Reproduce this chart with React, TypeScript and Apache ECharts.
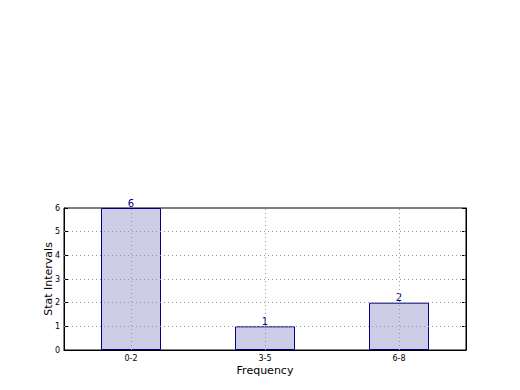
import React, { useEffect, useRef } from "react";
import * as echarts from "echarts";

const categories = ["0-2", "3-5", "6-8"];
const values = [6, 1, 2];
const yTicks = [0, 1, 2, 3, 4, 5, 6];
const innerGridY = [1, 2, 3, 4, 5];

export default function App() {
  const ref = useRef<HTMLDivElement>(null);
  useEffect(() => {
    if (!ref.current) return;
    const chart = echarts.init(ref.current, undefined, { renderer: "svg" });
    const font = "DejaVu Sans";
    const gridStyle = { color: "#999", type: [1, 3], width: 1 };
    chart.setOption({
      animation: false,
      textStyle: { fontFamily: font },
      grid: {
        left: 64,
        top: 208,
        width: 402,
        height: 142,
        show: true,
        borderColor: "#000",
        borderWidth: 1,
        backgroundColor: "transparent",
        containLabel: false,
      },
      xAxis: {
        type: "category",
        data: categories,
        boundaryGap: true,
        name: "Frequency",
        nameLocation: "middle",
        nameGap: 15,
        nameMoveOverlap: false,
        nameTextStyle: { fontSize: 11, color: "#000", fontFamily: font },
        axisLine: { lineStyle: { color: "#000", width: 1 } },
        axisTick: { inside: true, alignWithLabel: true, length: 4, lineStyle: { color: "#000" } },
        axisLabel: { fontSize: 8, color: "#000", margin: 4, fontFamily: font },
        splitLine: { show: false },
      },
      yAxis: [
        {
          type: "value",
          min: 0,
          max: 6,
          interval: 1,
          z: 5,
          name: "Stat Intervals",
          nameLocation: "middle",
          nameGap: 10,
          nameMoveOverlap: false,
          nameTextStyle: { fontSize: 11, color: "#000", fontFamily: font },
          axisLine: { show: true, lineStyle: { color: "#000", width: 1 } },
          axisTick: { show: true, inside: true, length: 4, lineStyle: { color: "#000" } },
          axisLabel: {
            fontSize: 8,
            color: "#000",
            margin: 4,
            fontFamily: font,
            formatter: (v: number) => (yTicks.includes(v) ? String(v) : ""),
          },
          splitLine: { show: false },
        },
        {
          type: "value",
          min: 0,
          max: 6,
          interval: 1,
          position: "right",
          z: 5,
          axisLine: { show: true, lineStyle: { color: "#000", width: 1 } },
          axisTick: { show: true, inside: true, length: 4, lineStyle: { color: "#000" } },
          axisLabel: { show: false },
          splitLine: { show: false },
        },
      ],
      series: [
        {
          type: "bar",
          data: values,
          barWidth: 60,
          z: 2,
          itemStyle: {
            color: "rgb(204,204,230)",
            borderColor: "#000080",
            borderWidth: 1,
          },
          label: {
            show: true,
            position: "top",
            distance: 0,
            fontSize: 10,
            color: "#000080",
            fontFamily: font,
          },
          markLine: {
            silent: true,
            symbol: "none",
            label: { show: false },
            z: 6,
            lineStyle: gridStyle,
            data: [
              ...categories.map((c) => ({ xAxis: c })),
              ...innerGridY.map((v) => ({ yAxis: v })),
            ],
          },
        },
      ],
    });
    return () => chart.dispose();
  }, []);
  return (
    <div
      ref={ref}
      style={{ position: "fixed", left: 0, top: 0, width: 520, height: 390, background: "#fff" }}
    />
  );
}
